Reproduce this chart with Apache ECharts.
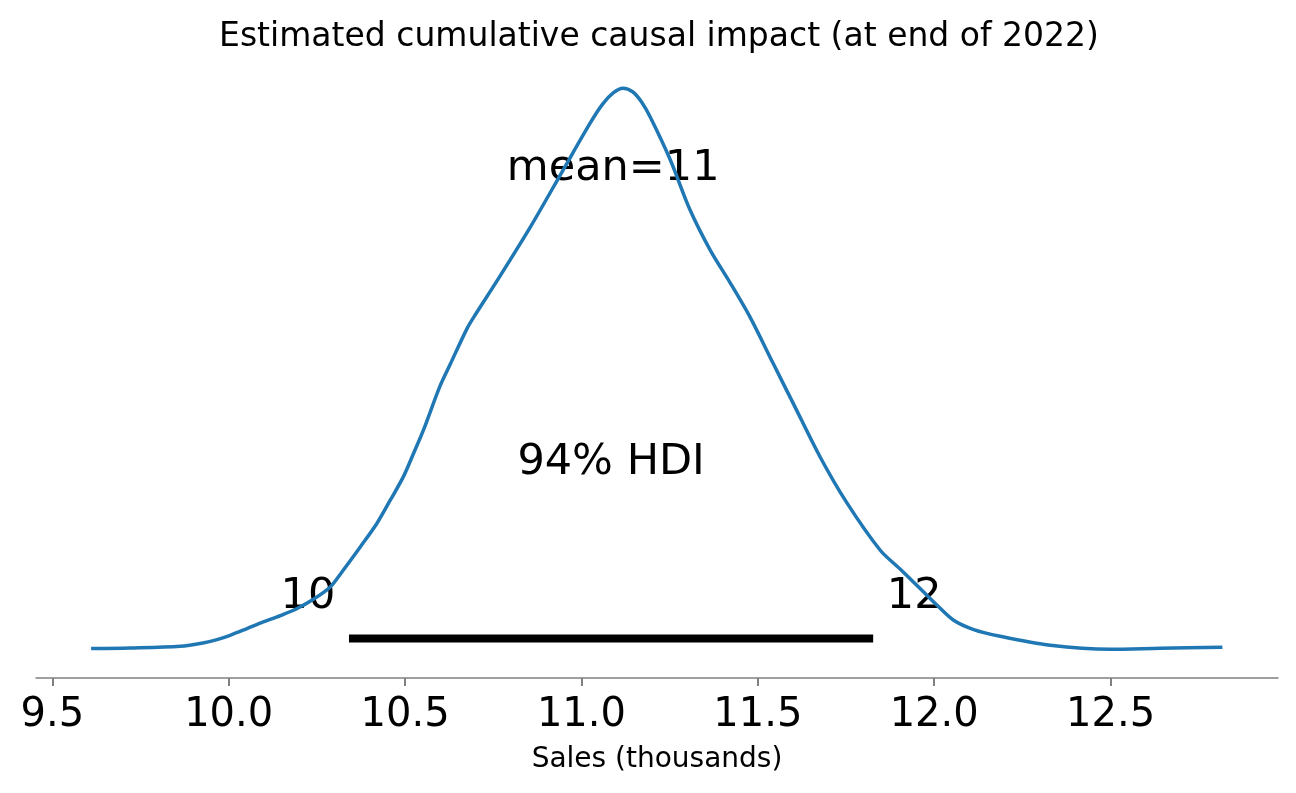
<!DOCTYPE html>
<html>
<head>
<meta charset="utf-8">
<title>Estimated cumulative causal impact</title>
<script src="https://cdn.jsdelivr.net/npm/echarts@6/dist/echarts.min.js"></script>
<style>
  html, body { margin: 0; padding: 0; background: #fff; }
  #chart { width: 1296px; height: 793px; }
</style>
</head>
<body>
<div id="chart"></div>
<script>
// posterior KDE of the cumulative impact (sales, thousands)
var kdeX = [9.610, 9.720, 9.862, 9.927, 9.967, 10.004, 10.052, 10.098, 10.154, 10.194,
            10.239, 10.288, 10.321, 10.373, 10.420, 10.458, 10.495, 10.524, 10.552, 10.599,
            10.628, 10.676, 10.700, 10.761, 10.855, 10.948, 11.025, 11.060, 11.090, 11.118,
            11.145, 11.170, 11.195, 11.252, 11.308, 11.365, 11.422, 11.478, 11.543, 11.600, 11.677,
            11.753, 11.847, 11.904, 11.960, 12.008, 12.055, 12.112, 12.187, 12.329,
            12.499, 12.641, 12.817];
var kdeY = [0.0029, 0.0039, 0.0068, 0.0124, 0.0182, 0.0255, 0.0369, 0.0481, 0.0607, 0.0709,
            0.0862, 0.1076, 0.1331, 0.1756, 0.2155, 0.2550, 0.2946, 0.3344, 0.3740, 0.4488,
            0.486, 0.547, 0.571, 0.628, 0.719, 0.816, 0.896, 0.928, 0.947, 0.955,
            0.949, 0.932, 0.906, 0.833, 0.748, 0.680, 0.624, 0.566, 0.488, 0.420, 0.328,
            0.250, 0.170, 0.1377, 0.1049, 0.0765, 0.0510, 0.0352, 0.0238, 0.0085,
            0.0017, 0.0034, 0.0051];

var meanValue = 11.09;
var meanLabel = 'mean=11';
var hdiBounds = [10.341, 11.827];
var hdiLabels = ['10', '12'];
var hdiText = '94% HDI';
var tickValues = [9.5, 10.0, 10.5, 11.0, 11.5, 12.0, 12.5];

var xMin = 9.4538, xMax = 12.9746;
var yMin = -0.0471, yMax = 0.9962;

var FONT = 'DejaVu Sans';
var annoSize = 43;

function textPoint(x, y, text, align) {
    // label baseline sits on the data point, like matplotlib text()
    return {
        value: [x, y],
        label: {
            show: true,
            formatter: text,
            position: [0, 0],
            align: align,
            verticalAlign: 'middle',
            lineHeight: annoSize,
            offset: [0, -0.28 * annoSize],
            fontSize: annoSize,
            fontFamily: FONT,
            color: '#000'
        }
    };
}

var kdeData = [];
for (var i = 0; i < kdeX.length; i++) {
    kdeData.push([kdeX[i], kdeY[i]]);
}

var hdiY = yMax * 0.02;

var option = {
    animation: false,
    backgroundColor: '#fff',
    title: {
        text: 'Estimated cumulative causal impact (at end of 2022)',
        left: 654,
        textAlign: 'center',
        top: 16,
        textStyle: { fontFamily: FONT, fontSize: 33, fontWeight: 'normal', color: '#000' }
    },
    grid: { left: 36, right: 18, top: 64, bottom: 115 },
    xAxis: {
        type: 'value',
        min: xMin,
        max: xMax,
        name: 'Sales (thousands)',
        nameLocation: 'middle',
        nameGap: 68,
        nameTextStyle: { fontFamily: FONT, fontSize: 28, color: '#000' },
        axisLine: { show: true, onZero: false, lineStyle: { color: '#808080', width: 1.5 } },
        axisTick: { show: true, length: 8, customValues: tickValues, lineStyle: { color: '#808080', width: 2 } },
        axisLabel: {
            customValues: tickValues,
            margin: 18,
            fontFamily: FONT,
            fontSize: 40,
            color: '#000',
            formatter: function (v) { return v.toFixed(1); }
        },
        splitLine: { show: false }
    },
    yAxis: {
        type: 'value',
        min: yMin,
        max: yMax,
        show: false,
        splitLine: { show: false }
    },
    series: [
        {
            name: 'kde',
            type: 'line',
            data: kdeData,
            smooth: 0.3,
            showSymbol: false,
            lineStyle: { color: '#1f77b4', width: 3.5 }
        },
        {
            name: 'hdi',
            type: 'line',
            data: [[hdiBounds[0], hdiY], [hdiBounds[1], hdiY]],
            showSymbol: false,
            lineStyle: { color: '#000', width: 8, cap: 'butt' }
        },
        {
            name: 'labels',
            type: 'scatter',
            symbolSize: 0,
            silent: true,
            itemStyle: { opacity: 1 },
            data: [
                textPoint(meanValue, yMax * 0.8, meanLabel, 'center'),
                textPoint((hdiBounds[0] + hdiBounds[1]) / 2, yMax * 0.3, hdiText, 'center'),
                textPoint(hdiBounds[0], yMax * 0.07, hdiLabels[0] + ' ', 'right'),
                textPoint(hdiBounds[1], yMax * 0.07, ' ' + hdiLabels[1], 'left')
            ]
        }
    ]
};

var chart = echarts.init(document.getElementById('chart'));
chart.setOption(option);
</script>
</body>
</html>
